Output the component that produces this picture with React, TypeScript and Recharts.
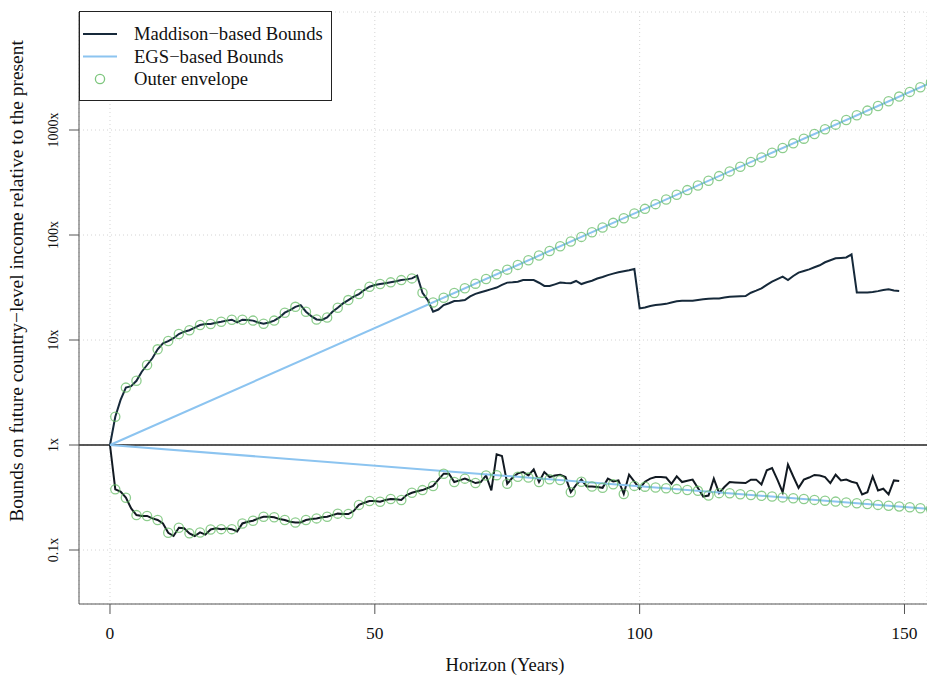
import React from "react";
import { ComposedChart, Line, Scatter, XAxis, YAxis, CartesianGrid, ReferenceLine } from "recharts";

// Bounds on future income: Maddison vs EGS, log y-axis, open-circle outer envelope.

const FONT = '"Liberation Serif", "Times New Roman", serif';
const NAVY = "#16293a";
const SKY = "#8cc4f0";
const GREEN = "#5cb85c";
const AXIS = "#555";
const GRID = "#d4d4d4";

const W = 927;
const H = 677;

const xTicks = [0, 50, 100, 150];
const yTicks = [0.1, 1, 10, 100, 1000];
const yTickLabels = ["0.1x", "1x", "10x", "100x", "1000x"];

// Maddison-based bounds, one value per year 0..149
const maddisonUpper = [
  1, 1.86, 2.69, 3.52, 3.63, 4.09, 4.99, 5.78, 6.7, 8.15,
  9.31, 9.77, 10.4, 11.4, 12.0, 12.4, 13.1, 13.9, 14.2, 14.2,
  14.6, 14.9, 15.3, 15.6, 14.7, 15.6, 15.5, 15.3, 14.7, 14.3,
  14.7, 15.3, 16.4, 18.2, 19.3, 20.7, 21.5, 18.6, 16.9, 15.7,
  15.5, 16.4, 18.6, 20.3, 22.3, 24.0, 25.9, 27.4, 29.9, 32.2,
  33.4, 34.1, 34.7, 35.4, 36.2, 37.2, 37.8, 38.6, 41.0, 28.2,
  24.0, 18.6, 19.5, 21.5, 22.4, 23.5, 23.6, 24.0, 26.0, 27.5,
  28.5, 29.5, 30.5, 31.6, 33.5, 35.2, 35.5, 35.9, 37.2, 37.2,
  37.2, 35.1, 32.7, 32.7, 33.9, 35.2, 34.9, 34.7, 36.5, 34.1,
  35.5, 36.7, 38.5, 39.8, 41.5, 42.9, 44.2, 45.2, 46.2, 47.4,
  20.0, 20.4, 21.1, 21.5, 21.8, 22.1, 22.8, 23.4, 23.6, 23.6,
  23.7, 24.1, 24.4, 24.7, 24.8, 24.9, 25.4, 25.8, 26.0, 26.1,
  26.2, 28.2, 29.5, 31.0, 33.5, 35.9, 38.0, 40.1, 37.2, 40.7,
  43.8, 45.4, 47.1, 49.3, 51.5, 55.0, 57.5, 60.0, 60.5, 61.1,
  65.5, 28.4, 28.4, 28.4, 28.6, 29.2, 29.9, 30.4, 29.6, 29.3,
];

const maddisonLower = [
  1, 0.378, 0.36, 0.315, 0.249, 0.215, 0.211, 0.211, 0.2, 0.193,
  0.179, 0.146, 0.136, 0.163, 0.161, 0.144, 0.136, 0.147, 0.14, 0.157,
  0.161, 0.158, 0.16, 0.158, 0.15, 0.179, 0.186, 0.19, 0.2, 0.207,
  0.207, 0.205, 0.197, 0.193, 0.186, 0.183, 0.183, 0.193, 0.197, 0.2,
  0.205, 0.207, 0.215, 0.222, 0.22, 0.22, 0.235, 0.269, 0.282, 0.293,
  0.293, 0.288, 0.299, 0.306, 0.304, 0.299, 0.334, 0.351, 0.363, 0.372,
  0.389, 0.407, 0.468, 0.533, 0.533, 0.444, 0.46, 0.478, 0.457, 0.434,
  0.444, 0.513, 0.369, 0.817, 0.787, 0.427, 0.49, 0.537, 0.553, 0.513,
  0.587, 0.444, 0.553, 0.495, 0.513, 0.521, 0.495, 0.355, 0.417, 0.468,
  0.403, 0.403, 0.398, 0.391, 0.478, 0.45, 0.46, 0.342, 0.521, 0.447,
  0.383, 0.447, 0.479, 0.495, 0.495, 0.49, 0.427, 0.502, 0.444, 0.457,
  0.468, 0.389, 0.323, 0.33, 0.478, 0.348, 0.398, 0.444, 0.44, 0.437,
  0.434, 0.468, 0.468, 0.421, 0.574, 0.604, 0.468, 0.355, 0.65, 0.501,
  0.391, 0.468, 0.49, 0.519, 0.513, 0.495, 0.434, 0.521, 0.46, 0.468,
  0.447, 0.434, 0.338, 0.355, 0.502, 0.369, 0.383, 0.338, 0.46, 0.453,
];

// EGS-based bounds (straight on the log scale)
const egsYears = [0, 155];
const egsUpper = [1, 2831];
const egsLower = [1, 0.246];

// Outer envelope, odd years 1..155
const envelopeUpper = [
  1.86, 3.52, 4.09, 5.78, 8.15, 9.77, 11.4, 12.4, 13.9, 14.2,
  14.9, 15.6, 15.6, 15.3, 14.3, 15.3, 18.2, 20.7, 18.6, 15.7,
  16.4, 20.3, 24.0, 27.4, 32.2, 34.1, 35.4, 37.2, 38.6, 28.2,
  22.8, 25.3, 28.0, 31.1, 34.4, 38.1, 42.2, 46.8, 51.9, 57.4,
  63.7, 70.5, 78.2, 86.6, 95.9, 106.3, 117.8, 130.5, 144.6, 160.2,
  177.5, 196.7, 217.9, 241.5, 267.6, 296.5, 328.5, 364.0, 403.3, 446.8,
  495.1, 548.5, 607.9, 673.5, 746.2, 826.9, 916.1, 1015, 1125, 1246,
  1381, 1530, 1695, 1878, 2081, 2306, 2555, 2831,
];

const envelopeLower = [
  0.378, 0.315, 0.215, 0.211, 0.193, 0.146, 0.163, 0.144, 0.147, 0.157,
  0.158, 0.158, 0.179, 0.19, 0.207, 0.205, 0.193, 0.183, 0.193, 0.2,
  0.207, 0.222, 0.22, 0.269, 0.293, 0.288, 0.306, 0.299, 0.351, 0.372,
  0.407, 0.533, 0.444, 0.478, 0.434, 0.513, 0.516, 0.427, 0.498, 0.489,
  0.444, 0.472, 0.463, 0.355, 0.447, 0.403, 0.391, 0.423, 0.342, 0.408,
  0.401, 0.394, 0.387, 0.38, 0.373, 0.366, 0.33, 0.348, 0.347, 0.34,
  0.334, 0.328, 0.323, 0.317, 0.311, 0.306, 0.3, 0.295, 0.289, 0.284,
  0.279, 0.274, 0.269, 0.264, 0.26, 0.255, 0.25, 0.246,
];

const madYears = maddisonUpper.map((_, i) => i);
const envYears = envelopeUpper.map((_, i) => 2 * i + 1);

const toRows = (xs: number[], ys: number[]) => ys.map((y, i) => ({ x: xs[i], y }));

const madUpRows = toRows(madYears, maddisonUpper);
const madLoRows = toRows(madYears, maddisonLower);
const egsUpRows = toRows(egsYears, egsUpper);
const egsLoRows = toRows(egsYears, egsLower);
const envRows = [...toRows(envYears, envelopeUpper), ...toRows(envYears, envelopeLower)];

const XTick = (props: any) => {
  const { x, payload } = props;
  return (
    <text x={x} y={639} textAnchor="middle" fontFamily={FONT} fontSize={17.5} fill="#111">
      {payload.value}
    </text>
  );
};

const YTick = (props: any) => {
  const { y, payload } = props;
  const i = yTicks.indexOf(payload.value);
  return (
    <text x={58} y={y} transform={`rotate(-90 58 ${y})`} textAnchor="middle" fontFamily={FONT} fontSize={14} fill="#111">
      {yTickLabels[i] ?? payload.value}
    </text>
  );
};

const Ring = (props: any) => (
  <circle cx={props.cx} cy={props.cy} r={4.6} fill="none" stroke={GREEN} strokeOpacity={0.7} strokeWidth={1.3} />
);

function LegendBox() {
  const rows = [
    { label: "Maddison\u2212based Bounds", kind: "line", color: NAVY },
    { label: "EGS\u2212based Bounds", kind: "line", color: SKY },
    { label: "Outer envelope", kind: "ring", color: GREEN },
  ];
  return (
    <svg
      width={253}
      height={90}
      style={{ position: "absolute", left: 79, top: 11, background: "#fff" }}
    >
      <rect x={0.5} y={0.5} width={252} height={89} fill="#fff" stroke="#222" strokeWidth={1} />
      {rows.map((r, i) => {
        const cy = 23 + i * 22.5;
        return (
          <g key={r.label}>
            {r.kind === "line" ? (
              <line x1={4} x2={38} y1={cy} y2={cy} stroke={r.color} strokeWidth={2} />
            ) : (
              <circle cx={21} cy={cy} r={4.6} fill="none" stroke={r.color} strokeOpacity={0.8} strokeWidth={1.3} />
            )}
            <text x={55} y={cy + 6} fontFamily={FONT} fontSize={18.6} fill="#111">
              {r.label}
            </text>
          </g>
        );
      })}
    </svg>
  );
}

export default function App() {
  return (
    <div style={{ position: "absolute", left: 0, top: 0, width: W, height: H, background: "#fff", overflow: "hidden" }}>
      <ComposedChart width={W} height={H} margin={{ top: 12, right: 0, bottom: 0, left: 0 }}>
        <CartesianGrid stroke={GRID} strokeDasharray="1 3" />
        <XAxis
          type="number"
          dataKey="x"
          domain={[-5.85, 154.25]}
          allowDataOverflow
          ticks={xTicks}
          height={73}
          tickSize={10}
          stroke={AXIS}
          tick={<XTick />}
        />
        <YAxis
          type="number"
          dataKey="y"
          scale="log"
          domain={[0.0306, 13300]}
          allowDataOverflow
          ticks={yTicks}
          width={79}
          tickSize={10}
          stroke={AXIS}
          tick={<YTick />}
        />
        <ReferenceLine y={1} stroke="#222" strokeWidth={1.3} />
        <Line data={madUpRows} dataKey="y" type="linear" stroke={NAVY} strokeWidth={2} dot={false} isAnimationActive={false} />
        <Line data={madLoRows} dataKey="y" type="linear" stroke="#121a22" strokeWidth={2} dot={false} isAnimationActive={false} />
        <Line data={egsUpRows} dataKey="y" type="linear" stroke={SKY} strokeWidth={2} dot={false} isAnimationActive={false} />
        <Line data={egsLoRows} dataKey="y" type="linear" stroke={SKY} strokeWidth={2} dot={false} isAnimationActive={false} />
        <Scatter data={envRows} dataKey="y" shape={<Ring />} isAnimationActive={false} />
      </ComposedChart>
      <svg width={W} height={H} style={{ position: "absolute", left: 0, top: 0, pointerEvents: "none" }}>
        <text
          x={23}
          y={281}
          transform="rotate(-90 23 281)"
          textAnchor="middle"
          fontFamily={FONT}
          fontSize={19.4}
          fill="#111"
        >
          Bounds on future country{"\u2212"}level income relative to the present
        </text>
        <text x={505} y={671} textAnchor="middle" fontFamily={FONT} fontSize={18.5} fill="#111">
          Horizon (Years)
        </text>
      </svg>
      <LegendBox />
    </div>
  );
}
